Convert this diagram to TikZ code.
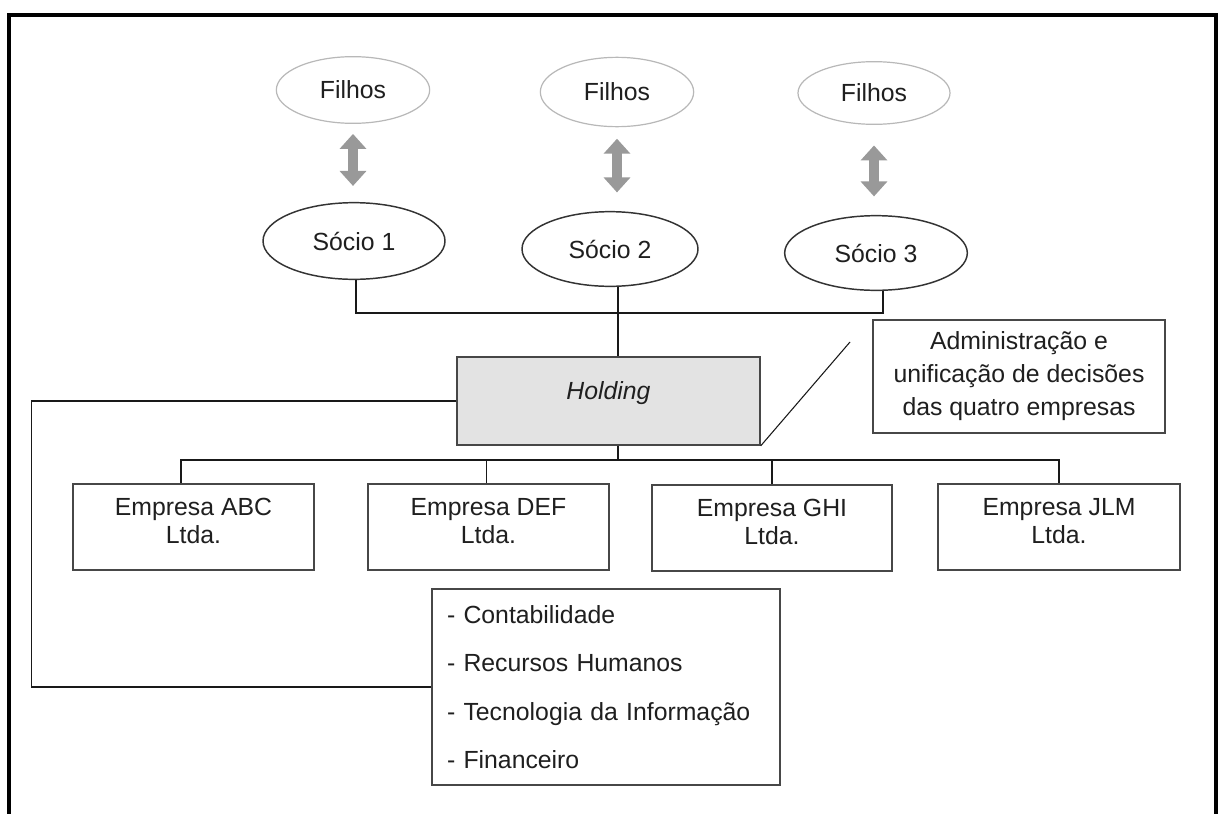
\documentclass[tikz,border=0pt]{standalone}
\usepackage{fontspec}
\setmainfont{Liberation Sans}
\usetikzlibrary{shapes.geometric,arrows.meta,calc}
\begin{document}
\begin{tikzpicture}[x=0.75pt,y=-0.75pt,
  txt/.style={text=black!88, font=\fontsize{18.6}{21}\selectfont},
  kid/.style={ellipse, draw=black!28, line width=0.9pt, inner sep=0pt, txt},
  partner/.style={ellipse, draw=black!80, line width=1.1pt, fill=white, inner sep=0pt, txt},
  box/.style={rectangle, draw=black!72, line width=1.3pt, inner sep=0pt, align=center, txt},
  firm/.style={box, minimum height=64.5pt, text depth=9pt},
  link/.style={draw=black!90, line width=1.1pt},
  twoway/.style={draw=black!40, line width=7.5pt,
    {Triangle[width=19.5pt,length=11.25pt]}-{Triangle[width=19.5pt,length=11.25pt]}},
]
% page and outer frame (open at the bottom)
\clip (0,0) rectangle (1221,814);
\fill[white] (0,0) rectangle (1221,814);
\draw[line width=3pt] (9,830) -- (9,15) -- (1216,15) -- (1216,830);

% children
\node[kid, minimum width=115pt, minimum height=50pt] (F1) at (353,90) {Filhos};
\node[kid, minimum width=115pt, minimum height=52pt] (F2) at (617,92) {Filhos};
\node[kid, minimum width=114pt, minimum height=47pt] (F3) at (874,93) {Filhos};

% partners
\node[partner, minimum width=136.5pt, minimum height=57.5pt] (S1) at (354,241) {Sócio 1};
\node[partner, minimum width=132pt, minimum height=56pt] (S2) at (610,249) {Sócio 2};
\node[partner, minimum width=137pt, minimum height=56pt] (S3) at (876,253) {Sócio 3};

% two-way relations children <-> partners
\draw[twoway, shorten <=7.5pt, shorten >=12pt] (F1.south) -- (F1.south |- S1.north);
\draw[twoway, shorten <=8.6pt, shorten >=13.9pt] (F2.south) -- (F2.south |- S2.north);
\draw[twoway, shorten <=15.4pt, shorten >=13.9pt] (F3.south) -- (F3.south |- S3.north);

% holding
\node[box, fill=black!11, minimum width=227pt, minimum height=66pt, text depth=15pt] (H) at (608.5,401) {\itshape Holding};

% note box
\node[box, minimum width=219pt, minimum height=84.75pt, font=\fontsize{18.6}{24.75}\selectfont] (adm) at (1019,376.5)
  {Administração e\\unificação de decisões\\das quatro empresas};

% companies
\node[firm, minimum width=180.75pt] (ABC) at (193.5,527) {Empresa ABC\\Ltda.};
\node[firm, minimum width=180.75pt] (DEF) at (488.5,527) {Empresa DEF\\Ltda.};
\node[firm, minimum width=180pt] (GHI) at (772,528) {Empresa GHI\\Ltda.};
\node[firm, minimum width=181.5pt] (JLM) at (1059,527) {Empresa JLM\\Ltda.};

% shared services
\node[box, align=left, text width=238.5pt, inner xsep=11.25pt, minimum height=147pt,
  font=\fontsize{18.6}{36.4}\selectfont] (list) at (606,687)
  {- Contabilidade\\- Recursos Humanos\\- Tecnologia da Informação\\- Financeiro};

% connectors
\coordinate (sbus) at (618,313);
\coordinate (cbus) at (618,460);
\coordinate (tie) at (850,342);
\coordinate (s1b) at ($(S1.south)+(2,0)$);
\coordinate (s2b) at ($(S2.south)+(8,0)$);
\coordinate (s3b) at ($(S3.south)+(7,0)$);
\coordinate (abct) at ($(ABC.north)+(-12.5,0)$);
\coordinate (deft) at ($(DEF.north)+(-2,0)$);

\draw[link] (s1b) |- (s3b |- sbus) -- (s3b);
\draw[link] (s2b) -- (s2b |- H.north);
\draw[link] (s2b |- H.south) -- (s2b |- cbus);
\draw[link] (abct) |- (JLM.north |- cbus) -- (JLM.north);
\draw[link] (deft) -- (deft |- cbus);
\draw[link] (GHI.north) -- (GHI.north |- cbus);
\draw[link] (H.west) -- ++(-425,0) |- (list.west);
\draw[link, line width=0.8pt] (H.south east) -- (tie);
\end{tikzpicture}
\end{document}
